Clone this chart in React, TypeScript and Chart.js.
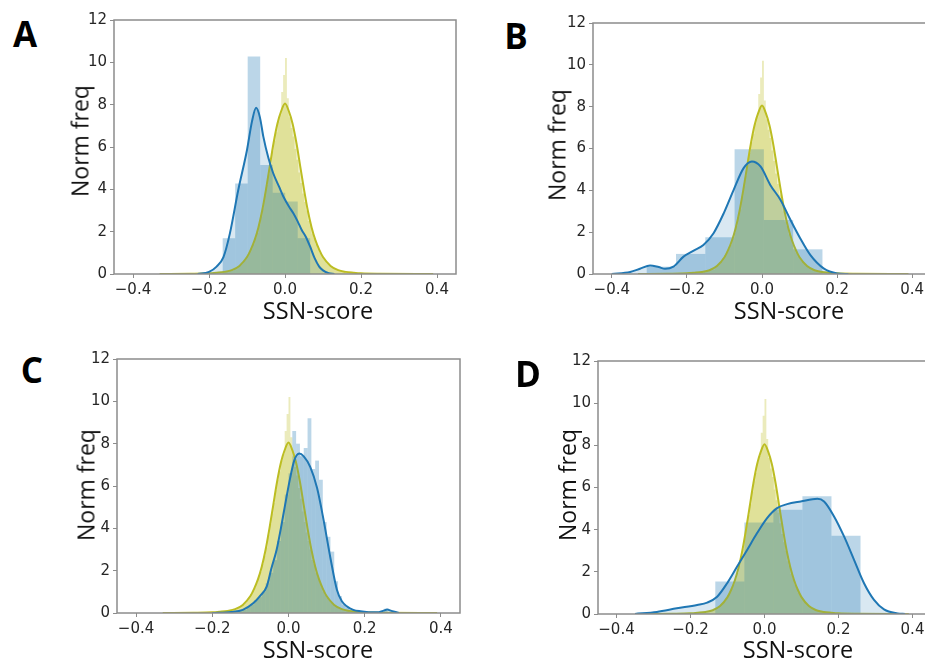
import React, { useEffect, useRef } from "react";
import { Chart, registerables } from "chart.js";

Chart.register(...registerables);

// ---------- Data ----------
const xTickValues = [-0.4, -0.2, 0, 0.2, 0.4];
const yTickValues = [0, 2, 4, 6, 8, 10, 12];

// Reference (olive) distribution: same in every panel
const refKdeX = [-0.33, -0.25, -0.2, -0.18, -0.16, -0.14, -0.12, -0.1, -0.09, -0.08, -0.07, -0.06, -0.05, -0.04, -0.03, -0.02, -0.01, 0, 0.01, 0.02, 0.03, 0.04, 0.05, 0.06, 0.07, 0.08, 0.09, 0.1, 0.12, 0.14, 0.16, 0.18, 0.2, 0.25, 0.39];
const refKdeY = [0, 0.01, 0.03, 0.06, 0.1, 0.18, 0.38, 0.8, 1.15, 1.6, 2.2, 3.0, 4.0, 5.1, 6.2, 7.1, 7.7, 8.05, 7.7, 7.1, 6.2, 5.1, 4.0, 3.0, 2.2, 1.6, 1.15, 0.8, 0.38, 0.18, 0.1, 0.06, 0.03, 0.01, 0];
const refHistStart = -0.2;
const refHistWidth = 0.005;
const refHist = [
  0.04, 0.02, 0.06, 0.03, 0.08, 0.05, 0.07, 0.1, 0.06, 0.12,
  0.12, 0.18, 0.15, 0.25, 0.22, 0.35, 0.4, 0.5, 0.6, 0.75,
  0.9, 1.05, 1.2, 1.4, 1.7, 1.95, 2.3, 2.7, 3.1, 3.7,
  4.2, 4.7, 5.2, 5.8, 6.3, 6.7, 7.2, 7.5, 8.6, 9.4,
  10.2, 8.3, 7.4, 6.9, 6.5, 5.9, 5.4, 4.8, 4.3, 3.8,
  3.4, 3.0, 2.5, 2.3, 1.9, 1.7, 1.4, 1.2, 1.0, 0.85,
  0.72, 0.6, 0.5, 0.42, 0.38, 0.3, 0.24, 0.2, 0.18, 0.15,
  0.12, 0.1, 0.09, 0.07, 0.06, 0.05, 0.05, 0.03, 0.04, 0.02,
];

// Panel A
const aKdeX = [-0.23, -0.2, -0.18, -0.162, -0.145, -0.123, -0.1, -0.087, -0.076, -0.066, -0.057, -0.044, -0.031, -0.015, -0.004, 0.01, 0.022, 0.033, 0.044, 0.055, 0.066, 0.078, 0.09, 0.1, 0.115, 0.13];
const aKdeY = [0, 0.1, 0.35, 0.8, 1.92, 3.97, 5.86, 7.2, 7.85, 7.4, 6.49, 5.5, 4.76, 4.1, 3.65, 3.2, 2.87, 2.5, 2.08, 1.75, 1.3, 0.75, 0.35, 0.17, 0.04, 0];
const aHistStart = -0.164;
const aHistWidth = 0.0329;
const aHist = [1.69, 4.28, 10.27, 5.15, 3.84, 3.42, 1.69];

// Panel B
const bKdeX = [-0.4, -0.351, -0.325, -0.298, -0.275, -0.258, -0.236, -0.209, -0.182, -0.156, -0.129, -0.102, -0.076, -0.049, -0.027, -0.004, 0.022, 0.049, 0.076, 0.102, 0.129, 0.164, 0.2, 0.23];
const bKdeY = [0, 0.1, 0.25, 0.41, 0.33, 0.25, 0.35, 0.83, 1.12, 1.39, 1.95, 2.9, 4.0, 5.06, 5.38, 5.14, 4.26, 3.55, 2.58, 1.7, 0.9, 0.27, 0.03, 0];
const bHistStart = -0.307;
const bHistWidth = 0.078;
const bHist = [0.35, 0.96, 1.76, 5.97, 2.58, 1.18];

// Panel C
const cKdeX = [-0.2, -0.15, -0.12, -0.092, -0.075, -0.057, -0.045, -0.031, -0.02, -0.013, -0.005, 0.004, 0.015, 0.028, 0.04, 0.057, 0.075, 0.092, 0.11, 0.127, 0.14, 0.154, 0.17, 0.189, 0.21, 0.233, 0.248, 0.259, 0.27, 0.29];
const cKdeY = [0, 0.05, 0.15, 0.47, 0.8, 1.26, 2.1, 3.0, 4.0, 4.7, 5.5, 6.35, 7.2, 7.53, 7.4, 6.9, 5.9, 4.4, 2.6, 1.1, 0.55, 0.3, 0.15, 0.08, 0.04, 0.03, 0.1, 0.16, 0.1, 0];
const cHistStart = -0.13;
const cHistWidth = 0.01;
const cHist = [
  0.1, 0.15, 0.3, 0.4, 0.6, 0.75, 1.0, 1.4, 1.9, 2.5,
  3.4, 4.3, 5.6, 6.6, 8.6, 8.0, 7.4, 7.8, 9.2, 6.8,
  7.2, 6.3, 4.3, 3.6, 2.9, 1.5, 0.8, 0.4, 0.25, 0.12,
  0.08, 0.05, 0.05, 0.03, 0, 0, 0, 0, 0.2, 0,
];

// Panel D
const dKdeX = [-0.35, -0.291, -0.237, -0.182, -0.155, -0.128, -0.101, -0.074, -0.047, -0.02, 0.007, 0.034, 0.061, 0.098, 0.143, 0.161, 0.188, 0.215, 0.242, 0.269, 0.296, 0.323, 0.36, 0.38];
const dKdeY = [0, 0.1, 0.27, 0.43, 0.54, 0.82, 1.46, 2.25, 3.04, 3.84, 4.55, 5.02, 5.21, 5.34, 5.47, 5.34, 4.63, 3.68, 2.57, 1.46, 0.67, 0.22, 0.03, 0];
const dHistStart = -0.133;
const dHistWidth = 0.0785;
const dHist = [1.54, 4.34, 4.94, 5.58, 3.71];

const panelLetters = ["A", "B", "C", "D"];
const xAxisTitle = "SSN-score";
const yAxisTitle = "Norm freq";

// ---------- Layout / style ----------
const BLUE = "#1f77b4";
const BLUE_FILL = "rgba(31,119,180,0.3)";
const BLUE_SHADE = "rgba(31,119,180,0.17)";
const OLIVE = "#bcbd22";
const OLIVE_FILL = "rgba(188,189,34,0.3)";
const OLIVE_SHADE = "rgba(188,189,34,0.22)";
const SPINE = "#8c8c8c";

const PAD_L = 62;
const PAD_T = 16;
const PAD_R = 12;
const PAD_B = 30;

const panels = [
  { letter: panelLetters[0], kdeX: aKdeX, kdeY: aKdeY, hs: aHistStart, hw: aHistWidth, hist: aHist,
    area: { left: 114, top: 20, right: 456, bottom: 274 }, letterPos: [25, 33], yTitlePos: [80, 141], xTitlePos: [318, 311] },
  { letter: panelLetters[1], kdeX: bKdeX, kdeY: bKdeY, hs: bHistStart, hw: bHistWidth, hist: bHist,
    area: { left: 593, top: 23, right: 931, bottom: 274 }, letterPos: [516, 35], yTitlePos: [557, 145], xTitlePos: [789, 311] },
  { letter: panelLetters[2], kdeX: cKdeX, kdeY: cKdeY, hs: cHistStart, hw: cHistWidth, hist: cHist,
    area: { left: 117, top: 359, right: 460, bottom: 613 }, letterPos: [32, 369], yTitlePos: [86, 485], xTitlePos: [318, 650] },
  { letter: panelLetters[3], kdeX: dKdeX, kdeY: dKdeY, hs: dHistStart, hw: dHistWidth, hist: dHist,
    area: { left: 598, top: 361, right: 931, bottom: 614 }, letterPos: [528, 373], yTitlePos: [567, 485], xTitlePos: [798, 650] },
];

function toXY(xs: number[], ys: number[]) {
  return xs.map((x, i) => ({ x, y: ys[i] }));
}
function histPoints(start: number, width: number, vals: number[]) {
  return vals.map((v, i) => ({ x: start + width * (i + 0.5), y: v }));
}
function fmtX(v: number) {
  if (v < -1e-9) return "\u2212" + Math.abs(v).toFixed(1);
  return Math.abs(v).toFixed(1);
}

const framePlugin = {
  id: "frame",
  afterDatasetsDraw(chart: any) {
    const { ctx, chartArea } = chart;
    const { left, top, right, bottom } = chartArea;
    ctx.save();
    ctx.strokeStyle = SPINE;
    ctx.lineWidth = 1.5;
    ctx.strokeRect(left, top, right - left, bottom - top);
    ctx.restore();
  },
};

const tickFont = { family: "'DejaVu Sans', sans-serif", size: 15 };
const setXTicks = (s: any) => {
  s.ticks = xTickValues.map((v) => ({ value: v }));
};

function Panel({ p }: { p: any }) {
  const ref = useRef<HTMLCanvasElement | null>(null);
  const w = p.area.right - p.area.left + PAD_L + PAD_R;
  const h = p.area.bottom - p.area.top + PAD_T + PAD_B;

  useEffect(() => {
    if (!ref.current) return;
    const chart = new Chart(ref.current, {
      type: "bar",
      data: {
        datasets: [
          {
            type: "line",
            label: "sample KDE",
            data: toXY(p.kdeX, p.kdeY),
            borderColor: BLUE,
            borderWidth: 2,
            pointRadius: 0,
            fill: "origin",
            backgroundColor: BLUE_SHADE,
            cubicInterpolationMode: "monotone",
            xAxisID: "x",
            yAxisID: "y",
            order: 0,
          },
          {
            type: "line",
            label: "reference KDE",
            data: toXY(refKdeX, refKdeY),
            borderColor: OLIVE,
            borderWidth: 2,
            pointRadius: 0,
            fill: "origin",
            backgroundColor: OLIVE_SHADE,
            cubicInterpolationMode: "monotone",
            xAxisID: "x",
            yAxisID: "y",
            order: 1,
          },
          {
            type: "bar",
            label: "sample histogram",
            data: histPoints(p.hs, p.hw, p.hist),
            backgroundColor: BLUE_FILL,
            borderWidth: 0,
            barPercentage: 1,
            categoryPercentage: 1,
            grouped: false,
            inflateAmount: 0,
            xAxisID: "x2",
            yAxisID: "y",
            order: 2,
          },
          {
            type: "line",
            label: "reference histogram",
            data: histPoints(refHistStart, refHistWidth, refHist),
            stepped: "middle",
            fill: "origin",
            backgroundColor: OLIVE_FILL,
            borderWidth: 0,
            borderColor: "rgba(0,0,0,0)",
            pointRadius: 0,
            xAxisID: "x",
            yAxisID: "y",
            order: 3,
          },
        ] as any,
      },
      options: {
        responsive: false,
        animation: false,
        devicePixelRatio: 1,
        layout: { padding: { left: 0, top: PAD_T, right: PAD_R, bottom: 0 } },
        plugins: { legend: { display: false }, tooltip: { enabled: false }, title: { display: false } },
        scales: {
          x: {
            type: "linear",
            min: -0.45,
            max: 0.45,
            offset: false,
            afterBuildTicks: setXTicks,
            afterFit: (s: any) => {
              s.height = PAD_B;
            },
            grid: { display: true, drawOnChartArea: false, drawTicks: true, tickLength: 4, color: SPINE, offset: false },
            border: { display: false },
            ticks: {
              font: tickFont,
              color: "#262626",
              padding: 3,
              maxRotation: 0,
              autoSkip: false,
              callback: (v: any) => fmtX(Number(v)),
            },
          },
          x2: { type: "linear", min: -0.45, max: 0.45, display: false, offset: false, afterBuildTicks: setXTicks, grid: { offset: false } },
          y: {
            type: "linear",
            min: 0,
            max: 12,
            afterBuildTicks: (s: any) => {
              s.ticks = yTickValues.map((v) => ({ value: v }));
            },
            afterFit: (s: any) => {
              s.width = PAD_L;
            },
            grid: { display: true, drawOnChartArea: false, drawTicks: true, tickLength: 4, color: SPINE },
            border: { display: false },
            ticks: {
              font: tickFont,
              color: "#262626",
              padding: 3,
              autoSkip: false,
              callback: (v: any) => String(v),
            },
          },
        },
      } as any,
      plugins: [framePlugin],
    });
    // bar thickness = one bin width, measured through the library's own x scale
    const sx = chart.scales.x2 || chart.scales.x;
    const thick = Math.abs(sx.getPixelForValue(p.hs + p.hw) - sx.getPixelForValue(p.hs));
    (chart.data.datasets[2] as any).barThickness = thick;
    (chart.data.datasets[2] as any).maxBarThickness = thick + 1;
    chart.update("none");
    return () => chart.destroy();
  }, []);

  return (
    <canvas
      ref={ref}
      width={w}
      height={h}
      style={{ position: "absolute", left: p.area.left - PAD_L, top: p.area.top - PAD_T, width: w, height: h }}
    />
  );
}

const titleStyle: any = {
  position: "absolute",
  fontFamily: "'Open Sans', sans-serif",
  fontSize: 23,
  lineHeight: 1,
  color: "#111",
  whiteSpace: "nowrap",
};

export default function App() {
  useEffect(() => {
    document.body.style.margin = "0";
    document.body.style.overflow = "hidden";
  }, []);
  return (
    <div style={{ position: "absolute", left: 0, top: 0, width: 925, height: 659, overflow: "hidden", background: "#fff" }}>
      {panels.map((p) => (
        <React.Fragment key={p.letter}>
          <Panel p={p} />
          <div
            style={{
              ...titleStyle,
              left: p.letterPos[0],
              top: p.letterPos[1],
              fontSize: 35,
              fontWeight: 700,
              color: "#000",
              transform: "translate(-50%, -50%)",
            }}
          >
            {p.letter}
          </div>
          <div style={{ ...titleStyle, left: p.yTitlePos[0], top: p.yTitlePos[1], transform: "translate(-50%, -50%) rotate(-90deg)" }}>
            {yAxisTitle}
          </div>
          <div style={{ ...titleStyle, fontSize: 23.5, left: p.xTitlePos[0], top: p.xTitlePos[1], transform: "translate(-50%, -50%)" }}>
            {xAxisTitle}
          </div>
        </React.Fragment>
      ))}
    </div>
  );
}
